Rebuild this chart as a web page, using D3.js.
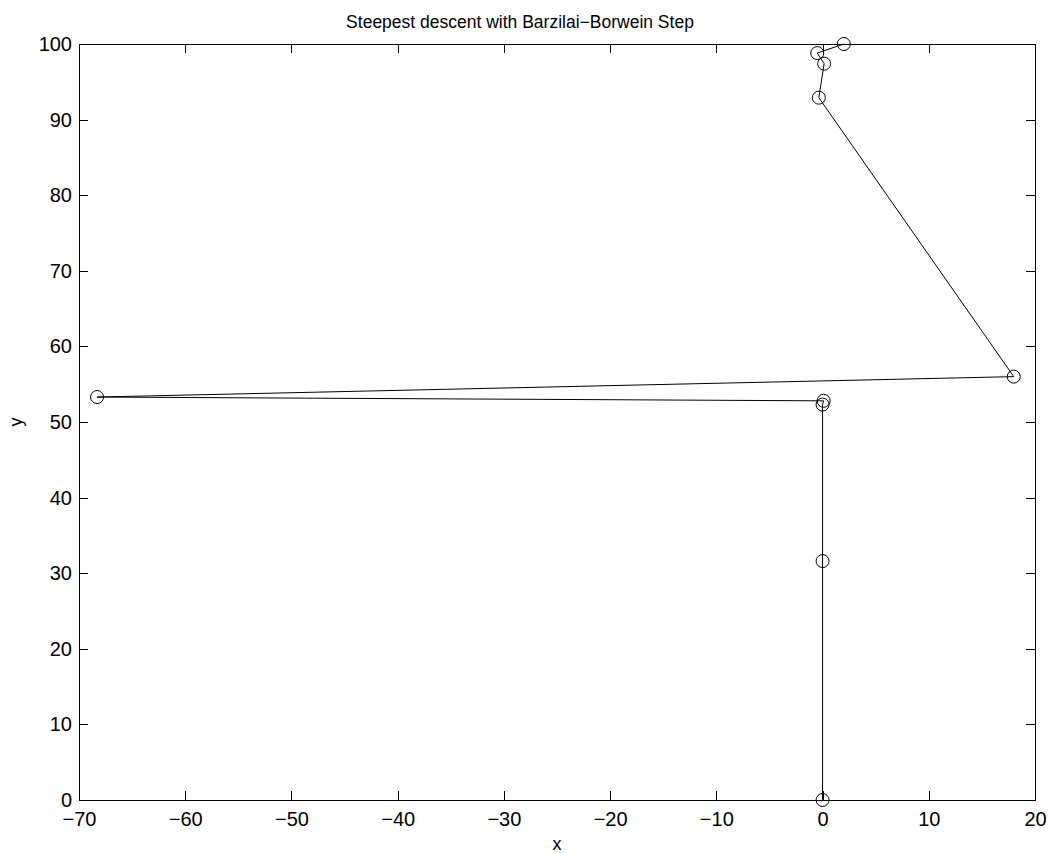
<!DOCTYPE html>
<html lang="en">
<head>
  <meta charset="UTF-8">
  <title>Steepest descent with Barzilai-Borwein Step</title>
  <script src="https://d3js.org/d3.v7.min.js"></script>
  <style>
    body, html {
      margin: 0;
      padding: 0;
      background: #fff;
    }
    svg {
      display: block;
      font-family: "Liberation Sans", Arial, sans-serif;
    }
    .axis path, .axis line {
      stroke: #000;
      stroke-width: 1px;
      shape-rendering: crispEdges;
    }
    .axis text {
      font-size: 20px;
      fill: #000;
    }
    .title {
      font-size: 17.5px;
      text-anchor: middle;
    }
    .label {
      font-size: 18px;
      text-anchor: middle;
    }
  </style>
</head>
<body>
  <svg id="chart" width="1050" height="853"></svg>

  <script>
    // iterates of the method, in order
    const xs = [2.0, -0.5, 0.15, -0.35, 18.0, -68.3, 0.1, 0.0, 0.0, 0.0];
    const ys = [100, 98.8, 97.4, 92.9, 56.0, 53.3, 52.8, 52.3, 31.6, 0];

    const xTicks = [-70, -60, -50, -40, -30, -20, -10, 0, 10, 20];
    const yTicks = [0, 10, 20, 30, 40, 50, 60, 70, 80, 90, 100];

    const margin = { left: 79, right: 15, top: 44, bottom: 53 };
    const width = 1050, height = 853;

    const svg = d3.select("#chart");

    const x = d3.scaleLinear()
      .domain([-70, 20])
      .range([margin.left, width - margin.right]);

    const y = d3.scaleLinear()
      .domain([0, 100])
      .range([height - margin.bottom, margin.top]);

    // axes, MATLAB style: ticks inside, box all round
    svg.append("g")
      .attr("class", "axis")
      .attr("transform", `translate(0,${y(0)})`)
      .call(d3.axisBottom(x).tickValues(xTicks).tickSize(-9).tickSizeOuter(0).tickPadding(12));

    svg.append("g")
      .attr("class", "axis")
      .attr("transform", `translate(0,${y(100)})`)
      .call(d3.axisTop(x).tickValues(xTicks).tickSize(-9).tickSizeOuter(0).tickFormat(""));

    svg.append("g")
      .attr("class", "axis")
      .attr("transform", `translate(${x(-70)},0)`)
      .call(d3.axisLeft(y).tickValues(yTicks).tickSize(-9).tickSizeOuter(0).tickPadding(7));

    svg.append("g")
      .attr("class", "axis")
      .attr("transform", `translate(${x(20)},0)`)
      .call(d3.axisRight(y).tickValues(yTicks).tickSize(-9).tickSizeOuter(0).tickFormat(""));

    const pts = xs.map((d, i) => ({ x: d, y: ys[i] }));

    const line = d3.line()
      .x(d => x(d.x))
      .y(d => y(d.y));

    svg.append("path")
      .datum(pts)
      .attr("d", line)
      .attr("fill", "none")
      .attr("stroke", "#000")
      .attr("stroke-width", 1);

    svg.selectAll(".marker")
      .data(pts)
      .enter().append("circle")
      .attr("class", "marker")
      .attr("cx", d => x(d.x))
      .attr("cy", d => y(d.y))
      .attr("r", 6.5)
      .attr("fill", "none")
      .attr("stroke", "#000")
      .attr("stroke-width", 1);

    // title and labels
    svg.append("text")
      .attr("class", "title")
      .attr("x", 520)
      .attr("y", 28)
      .text("Steepest descent with Barzilai\u2212Borwein Step");

    svg.append("text")
      .attr("class", "label")
      .attr("x", (x(-70) + x(20)) / 2)
      .attr("y", 850)
      .text("x");

    svg.append("text")
      .attr("class", "label")
      .attr("transform", `translate(22,${y(50)}) rotate(-90)`)
      .text("y");
  </script>
</body>
</html>
